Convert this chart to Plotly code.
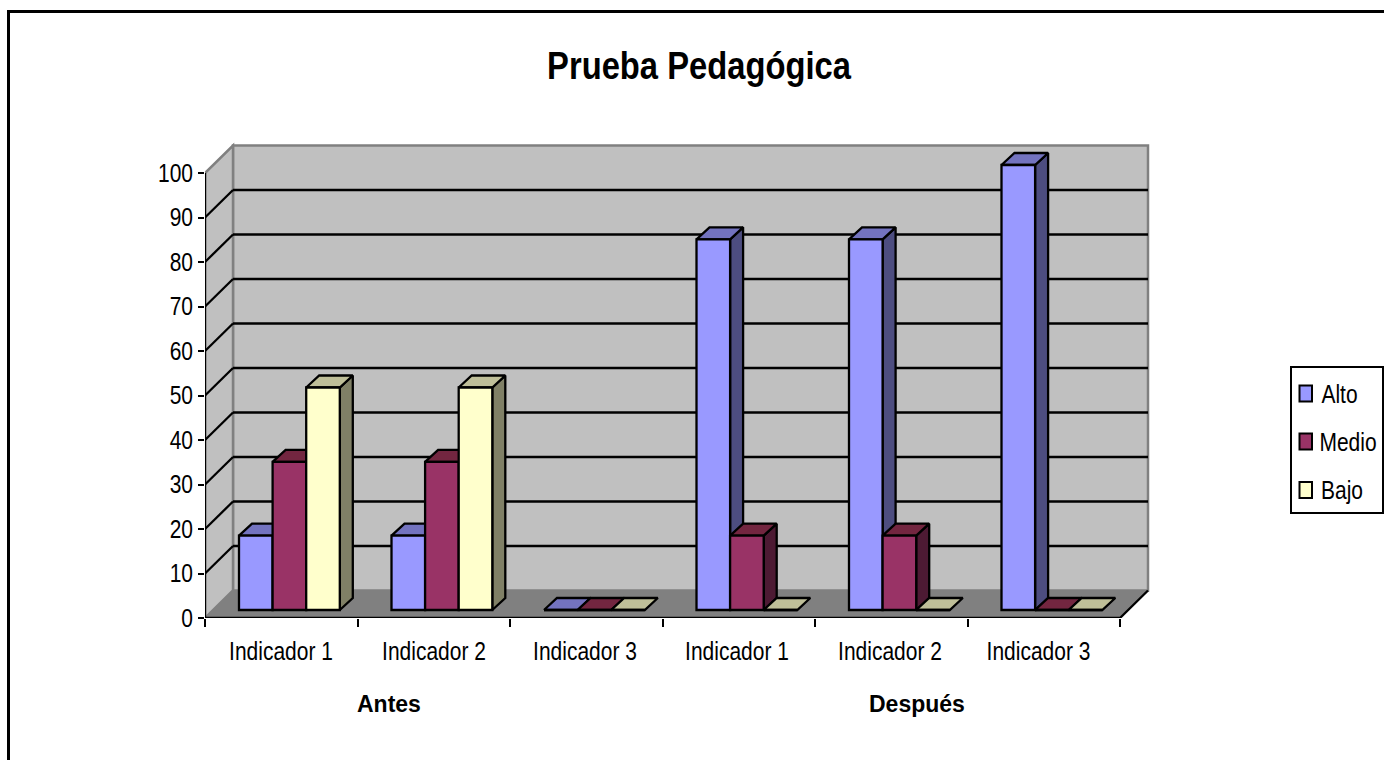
import plotly.graph_objects as go

# ---- data ----
categories = ["Indicador 1", "Indicador 2", "Indicador 3", "Indicador 1", "Indicador 2", "Indicador 3"]
alto = [16.7, 16.7, 0, 83.3, 83.3, 100]
medio = [33.3, 33.3, 0, 16.7, 16.7, 0]
bajo = [50, 50, 0, 0, 0, 0]
y_ticks = [0, 10, 20, 30, 40, 50, 60, 70, 80, 90, 100]
title_text = "Prueba Pedagógica"

# ---- layout scale (pixels per data unit) ----
W, H = 1384, 760
PLOT_L, PLOT_R, PLOT_T, PLOT_B = 205, 1150, 142, 618
PW, PH = PLOT_R - PLOT_L, PLOT_B - PLOT_T
UX = 152.5
UY = 4.45
FONT = "Liberation Sans, Arial"


def px(x):
    return (x - PLOT_L) / PW


def py(y):
    return (PLOT_B - y) / PH


wall_dx, wall_dy = 28 / UX, 27.5 / UY    # depth of the chart box
bar_dx, bar_dy = 13 / UX, 12 / UY        # depth of a bar
floor = 8 / UY                           # bars stand 8 px behind the front edge
bar_w = 33.6 / UX
bar_start = 34 / UX
n = len(categories)
LW = 2.3
label_centres = [281, 434, 585, 737, 890, 1038.5]   # the reference's labels sit slightly off the slots

x_range = [0, PW / UX]
y_range = [0, PH / UY]

series = [
    ("Alto", alto, "#9999FF", "#4D4D80", "#7373BF"),
    ("Medio", medio, "#993366", "#4D1A33", "#732640"),
    ("Bajo", bajo, "#FFFFCC", "#808066", "#BFBF99"),
]

fig = go.Figure()

# side and top faces, painted left to right on the base axes
for i in range(n):
    for s, (name, vals, front, side, top) in enumerate(series):
        x0 = i + bar_start + s * bar_w
        x1 = x0 + bar_w
        yt = floor + vals[i]
        if vals[i] > 0:
            fig.add_trace(go.Scatter(
                x=[x1, x1 + bar_dx, x1 + bar_dx, x1, x1],
                y=[yt, yt + bar_dy, floor + bar_dy, floor, yt],
                mode="lines", fill="toself", fillcolor=side,
                line=dict(color="black", width=LW), hoverinfo="skip", showlegend=False))
        fig.add_trace(go.Scatter(
            x=[x0, x1, x1 + bar_dx, x0 + bar_dx, x0],
            y=[yt, yt, yt + bar_dy, yt + bar_dy, yt],
            mode="lines", fill="toself", fillcolor=top,
            line=dict(color="black", width=LW), hoverinfo="skip", showlegend=False))

# front axes lines
fig.add_trace(go.Scatter(x=[0, 0], y=[0, 100], mode="lines", line=dict(color="black", width=LW),
                         cliponaxis=False, hoverinfo="skip", showlegend=False))
fig.add_trace(go.Scatter(x=[0, n, n + wall_dx], y=[0, 0, wall_dy], mode="lines",
                         line=dict(color="black", width=LW),
                         cliponaxis=False, hoverinfo="skip", showlegend=False))

# front faces, on an overlaying axis pair so they cover the neighbours' sides
for s, (name, vals, front, side, top) in enumerate(series):
    fig.add_trace(go.Bar(
        x=[i + bar_start + s * bar_w for i in range(n)],
        y=vals, base=floor, width=bar_w, offset=0, name=name,
        marker=dict(color=front, line=dict(color="black", width=LW)),
        xaxis="x2", yaxis="y2", cliponaxis=False, showlegend=False))

# outer frame, walls and floor
shapes = [
    dict(type="rect", xref="paper", yref="paper", x0=px(8.5), x1=px(W + 20), y0=py(H + 20), y1=py(11.5),
         line=dict(color="black", width=3), layer="below"),
    dict(type="path", xref="x", yref="y", layer="below", fillcolor="#C0C0C0",
         line=dict(color="#808080", width=2.5),
         path=f"M {wall_dx},{wall_dy} H {n + wall_dx} V {100 + wall_dy} H {wall_dx} Z"),
    dict(type="path", xref="x", yref="y", layer="below", fillcolor="#C0C0C0",
         line=dict(color="#808080", width=2.5),
         path=f"M 0,0 L {wall_dx},{wall_dy} V {100 + wall_dy} L 0,100 Z"),
    dict(type="path", xref="x", yref="y", layer="below", fillcolor="#808080",
         line=dict(color="#808080", width=1),
         path=f"M 0,0 H {n} L {n + wall_dx},{wall_dy} H {wall_dx} Z"),
]
for t in y_ticks[1:-1]:
    shapes.append(dict(type="line", xref="x", yref="y", layer="below", x0=0, y0=t, x1=wall_dx, y1=t + wall_dy,
                       line=dict(color="black", width=LW)))
    shapes.append(dict(type="line", xref="x", yref="y", layer="below", x0=wall_dx, y0=t + wall_dy, x1=n + wall_dx,
                       y1=t + wall_dy, line=dict(color="black", width=LW)))

# legend box and swatches
shapes.append(dict(type="rect", xref="paper", yref="paper", x0=px(1291), x1=px(1383), y0=py(513), y1=py(367),
                   fillcolor="white", line=dict(color="black", width=2)))
legend_y = [393.5, 441.5, 490]
legend_text_x = [1339, 1348, 1341.5]
annotations = [
    dict(text="Antes", x=(389 - PLOT_L) / UX, y=py(704), xref="x", yref="paper", yanchor="middle",
         showarrow=False, font=dict(family=FONT, size=23, color="black", weight="bold")),
    dict(text="Después", x=(917 - PLOT_L) / UX, y=py(704), xref="x", yref="paper", yanchor="middle",
         showarrow=False, font=dict(family=FONT, size=23, color="black", weight="bold")),
]
for (name, vals, front, side, top), ly, tx in zip(series, legend_y, legend_text_x):
    shapes.append(dict(type="rect", xref="paper", yref="paper", x0=px(1299.5), x1=px(1312), y0=py(ly + 8),
                       y1=py(ly - 8), fillcolor=front, line=dict(color="black", width=2)))
    annotations.append(dict(text=name, x=px(tx), y=py(ly), xref="paper", yref="paper", yanchor="middle",
                            xanchor="center", showarrow=False, font=dict(family=FONT, size=25, color="black")))

fig.update_layout(
    width=W, height=H, autosize=False, paper_bgcolor="white", plot_bgcolor="rgba(0,0,0,0)",
    margin=dict(l=PLOT_L, r=W - PLOT_R, t=PLOT_T, b=H - PLOT_B, pad=0),
    barmode="overlay", showlegend=False,
    title=dict(text=title_text, x=699 / W, xanchor="center", y=1 - 65 / H, yanchor="middle",
               font=dict(family=FONT, size=39, color="black", weight="bold")),
    xaxis=dict(range=x_range, tickmode="array", tickvals=list(range(n + 1)), ticktext=[""] * (n + 1),
               ticks="outside", ticklen=8, tickwidth=2, tickcolor="black", showgrid=False, zeroline=False,
               showline=False),
    yaxis=dict(range=y_range, tickmode="array", tickvals=y_ticks, ticks="outside", ticklen=6, tickwidth=2,
               tickcolor="black", showgrid=False, zeroline=False, showline=False,
               tickfont=dict(family=FONT, size=25, color="black")),
    xaxis2=dict(range=x_range, overlaying="x", anchor="y2", tickmode="array",
                tickvals=[(c - PLOT_L) / UX for c in label_centres], ticktext=categories, ticks="",
                showgrid=False, zeroline=False, showline=False, ticklabelstandoff=16,
                tickfont=dict(family=FONT, size=25, color="black")),
    yaxis2=dict(range=y_range, overlaying="y", anchor="x2", visible=False),
    shapes=shapes, annotations=annotations,
)

# The reference's type is a horizontally condensed Arial; scale the real text to that width.
post = """
document.body.style.margin='0';
var gd=document.getElementById('{plot_id}');
gd.querySelectorAll('[class*="tick"] text,.gtitle,.annotation-text').forEach(function(t){
  var s=t.textContent;
  if(!s||s==='Antes'||s==='Después')return;
  var b=t.getBBox(), a=getComputedStyle(t).textAnchor;
  var cx=a==='end'?b.x+b.width:(a==='start'?b.x:b.x+b.width/2);
  var old=t.getAttribute('transform')||'';
  t.setAttribute('transform',old+' translate('+cx+',0) scale(0.84,1) translate('+(-cx)+',0)');
});
"""
fig.write_html("out.html", post_script=post, config=dict(displayModeBar=False))
